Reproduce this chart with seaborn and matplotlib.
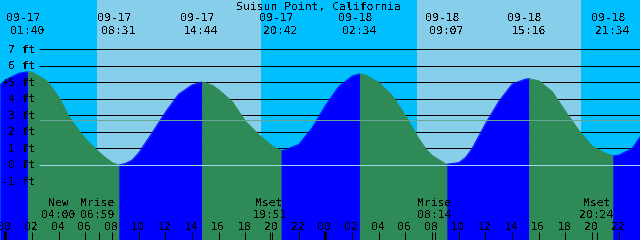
import numpy as np
import pandas as pd
import matplotlib
matplotlib.use("Agg")
import matplotlib.pyplot as plt
import seaborn as sns

# ---------------- data ----------------
title = "Suisun Point, California"

# tide curve: hours after 09-17 00:00, height in feet
tide_hours = [-0.4, 0, 1, 1.667,
              2, 3, 3.2, 4, 4.72, 5, 5.6, 6, 6.72, 7, 7.5, 8, 8.517,
              9, 9.5, 10, 11, 12, 12.72, 13, 14, 14.733,
              15, 15.57, 16, 17, 17.7, 18, 19, 20, 20.7,
              21, 22, 23, 24, 25, 26, 26.567,
              27, 28, 29, 30, 31, 31.55, 32, 33, 33.117,
              34, 34.5, 35, 36, 37, 38, 39, 39.267,
              40, 41, 42, 43, 44, 45, 45.567,
              46, 47, 47.6]
tide_feet = [4.85, 5.15, 5.55, 5.65,
             5.62, 5.15, 5.0, 4.1, 3.0, 2.65, 2.0, 1.6, 1.0, 0.8, 0.45, 0.15, 0.0,
             0.1, 0.3, 0.75, 1.95, 3.2, 4.0, 4.3, 4.85, 5.02,
             4.98, 4.8, 4.55, 3.85, 3.0, 2.65, 1.85, 1.15, 0.87,
             0.92, 1.25, 2.25, 3.6, 4.75, 5.38, 5.52,
             5.45, 5.0, 4.2, 3.0, 1.6, 0.95, 0.58, 0.08, 0.05,
             0.15, 0.45, 1.0, 2.5, 3.85, 4.9, 5.2, 5.23,
             5.1, 4.45, 3.25, 2.1, 1.15, 0.72, 0.55,
             0.6, 1.0, 1.7]

# high / low tide labels
extreme_dates = ["09-17", "09-17", "09-17", "09-17", "09-18", "09-18", "09-18", "09-18"]
extreme_times = ["01:40", "08:31", "14:44", "20:42", "02:34", "09:07", "15:16", "21:34"]

# moon events
moon_names = ["New", "Mrise", "Mset", "Mrise", "Mset"]
moon_dates = ["09-17", "09-17", "09-17", "09-18", "09-18"]
moon_times = ["04:00", "06:59", "19:51", "08:14", "20:24"]

# sun (daylight bands)
sunrise_dates = ["09-17", "09-18"]
sunrise_times = ["06:51", "06:51"]
sunset_times = ["19:10", "19:10"]

# depth scale
depth_levels = [7, 6, 5, 4, 3, 2, 1, 0, -1]
depth_labels = ["7 ft", "6 ft", "5 ft", "4 ft", "3 ft", "2 ft", "1 ft", "0 ft", "-1 ft"]
mean_level = 2.7
mark_level = 5

hour_ticks = list(range(0, 48, 2))

# ---------------- layout / style ----------------
W, H = 640, 240
X0, PXH = 5.4, 13.333      # pixel of 09-17 00:00, pixels per hour
Y0, PXF = 165.0, 16.53     # pixel of 0 ft, pixels per foot

NIGHT = "#00BFFF"
DAY = "#87CEEB"
RISE = "#0000FF"
FALL = "#2E8B57"
MSL_C = "#66a898"
DATUM_C = "#a2d6ec"
FONT = "DejaVu Sans Mono"
FS = 8.2


def to_hours(date, hm):
    day = int(date.split("-")[1]) - 17
    h, m = hm.split(":")
    return 24 * day + int(h) + int(m) / 60.0


def xd(xpx):
    return (xpx - X0) / PXH


def yd(ypx):
    return (Y0 - ypx) / PXF


sns.set_theme(style="white")
plt.rcParams["font.family"] = [FONT, "DejaVu Sans"]
plt.rcParams["text.antialiased"] = False

fig = plt.figure(figsize=(W / 100, H / 100), dpi=100)
ax = fig.add_axes([0, 0, 1, 1])
ax.add_patch(plt.Rectangle((xd(0), yd(H)), xd(W) - xd(0), yd(0) - yd(H),
                           color=NIGHT, zorder=0, lw=0))

# daylight bands
for d, sr, ss in zip(sunrise_dates, sunrise_times, sunset_times):
    ax.axvspan(to_hours(d, sr), to_hours(d, ss), color=DAY, lw=0, zorder=0.5)

line_w = 72 / 100  # one pixel
x_line0 = xd(39)

# depth lines (beneath the water)
for lv in depth_levels:
    if lv >= 1:
        ax.hlines(lv, x_line0, xd(W), color="black", lw=line_w, zorder=1)

# water fill, blue while rising, green while falling
df = pd.DataFrame({"hour": tide_hours, "feet": tide_feet})
ext_hours = [to_hours(d, t) for d, t in zip(extreme_dates, extreme_times)]
bounds = [df.hour.iloc[0]] + ext_hours + [df.hour.iloc[-1]]
ybot = yd(H) - 1
for a, b in zip(bounds[:-1], bounds[1:]):
    seg = df[(df.hour >= a - 0.02) & (df.hour <= b + 0.02)]
    rising = seg.feet.iloc[-1] > seg.feet.iloc[0]
    c = RISE if rising else FALL
    ax.fill_between(seg.hour, ybot, seg.feet, color=c, lw=0.3, edgecolor=c, zorder=2)
    sns.lineplot(data=seg, x="hour", y="feet", color=c, lw=0.6, ax=ax,
                 zorder=2.5, legend=False)

ax.set_xlim(xd(0), xd(W))
ax.set_ylim(yd(H), yd(0))
ax.set_axis_off()

# mean level and datum lines over the water
ax.hlines(mean_level, x_line0, xd(W), color=MSL_C, lw=line_w, zorder=3)
ax.hlines(0, x_line0, xd(W), color=DATUM_C, lw=line_w, zorder=3)

txt = dict(fontsize=FS, color="black", zorder=5, family=[FONT, "DejaVu Sans"])

# title
ax.text(xd(319), yd(10), title, ha="center", va="baseline", **txt)

# depth labels
for lv, lab in zip(depth_levels, depth_labels):
    ax.text(xd(35.5), lv - 3.4 / PXF, lab, ha="right", va="baseline", **txt)
ax.text(xd(5.5), mark_level, "+", ha="center", va="center", **txt)

# high / low labels
for d, t, eh in zip(extreme_dates, extreme_times, ext_hours):
    ax.text(eh - 4.5 / PXH, yd(21), d, ha="center", va="baseline", **txt)
    ax.text(eh - 0.6 / PXH, yd(33.5), t, ha="center", va="baseline", **txt)

# moon labels
moon_hours = [to_hours(d, t) for d, t in zip(moon_dates, moon_times)]
for n, t, mh in zip(moon_names, moon_times, moon_hours):
    ax.text(mh - 0.6 / PXH, yd(206), n, ha="center", va="baseline", **txt)
    ax.text(mh - 0.6 / PXH, yd(218.5), t, ha="center", va="baseline", **txt)

# hour axis
for h in hour_ticks:
    ax.text(h - 1 / PXH, yd(229.5), f"{h % 24:02d}", ha="center", va="baseline", **txt)
    if h % 24 == 0:
        ax.vlines(h, yd(H), yd(230.7), color="black", lw=3 * line_w, zorder=4)
    else:
        ax.vlines(h, yd(H), yd(231.7), color="black", lw=line_w, zorder=4)
for mh in moon_hours:
    ax.vlines(mh, yd(H), yd(231.7), color="black", lw=line_w, zorder=4)

fig.savefig("out.png", dpi=100)
